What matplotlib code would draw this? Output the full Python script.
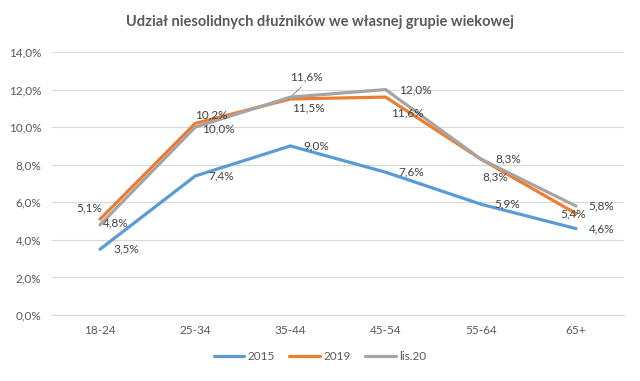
import matplotlib
matplotlib.use("Agg")
import matplotlib.pyplot as plt
from matplotlib.ticker import FuncFormatter

plt.rcParams["font.family"] = ["Lato", "DejaVu Sans"]

categories = ["18-24", "25-34", "35-44", "45-54", "55-64", "65+"]
series_names = ["2015", "2019", "lis.20"]
values_2015 = [3.5, 7.4, 9.0, 7.6, 5.9, 4.6]
values_2019 = [5.1, 10.2, 11.5, 11.6, 8.3, 5.4]
values_lis20 = [4.8, 10.0, 11.6, 12.0, 8.3, 5.8]

colors = ["#5B9BD5", "#ED7D31", "#A5A5A5"]

# label offsets in pixels (dx, dy, ha) per series, per point
offsets = [
    [(13, 0, "left")] * 6,
    [(2, 11, "right"), (0, 8, "left"), (2, -9, "left"), (5, -16, "left"), (2, -18, "left"), (-16, 0, "left")],
    [(3, 2, "left"), (7, -2, "left"), (0, 20, "left"), (13, 0, "left"), (15, 0, "left"), (12, 0, "left")],
]

fig = plt.figure(figsize=(6.4, 3.81), dpi=100)
ax = fig.add_axes([0.0819, 0.1732, 0.8925, 0.6903])

x = list(range(len(categories)))
all_series = [values_2015, values_2019, values_lis20]
for name, vals, col, offs in zip(series_names, all_series, colors, offsets):
    ax.plot(x, vals, color=col, lw=2.3, label=name, solid_capstyle="round",
            solid_joinstyle="round", zorder=3)
    for xi, v, (dx, dy, ha) in zip(x, vals, offs):
        ax.annotate(f"{v:.1f}%".replace(".", ","), xy=(xi, v), xytext=(dx, dy),
                    textcoords="offset pixels", ha=ha, va="center",
                    fontsize=8.5, color="#404040", zorder=4)

# leader line for the 11,6% label of lis.20
ax.annotate("", xy=(2, values_lis20[2]), xytext=(13, 12),
            textcoords="offset pixels",
            arrowprops=dict(arrowstyle="-", color="#7F7F7F", lw=0.6))

ax.set_xlim(-0.5, 5.5)
ax.set_ylim(0, 14)
ax.set_yticks([0, 2, 4, 6, 8, 10, 12, 14])
ax.yaxis.set_major_formatter(FuncFormatter(lambda v, p: f"{v:.1f}%".replace(".", ",")))
ax.set_xticks(x)
ax.set_xticklabels(categories)
ax.tick_params(axis="both", length=0, labelsize=8.5, labelcolor="#595959")
ax.tick_params(axis="y", pad=8)
ax.tick_params(axis="x", pad=7)
ax.grid(axis="y", color="#D9D9D9", lw=0.8)
ax.set_axisbelow(True)
for s in ["top", "right", "left"]:
    ax.spines[s].set_visible(False)
ax.spines["bottom"].set_color("#D9D9D9")
ax.spines["bottom"].set_linewidth(0.8)

fig.suptitle("Udział niesolidnych dłużników we własnej grupie wiekowej",
             x=0.5, y=0.96, fontsize=10.5, fontweight="bold", color="#595959")

fig.legend(loc="center", bbox_to_anchor=(0.5, 0.063), ncol=3, frameon=False,
           fontsize=8.5, handlelength=2.6, columnspacing=1.2, handletextpad=0.3,
           labelcolor="#595959")

fig.savefig("out.png", dpi=100)
